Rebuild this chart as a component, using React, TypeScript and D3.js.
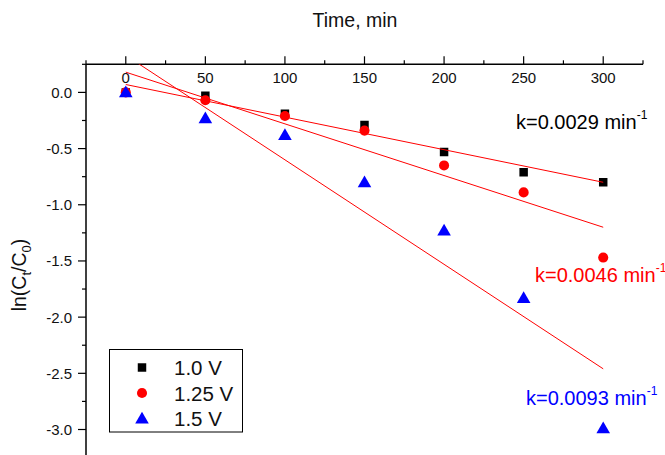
import React from "react";
import * as d3 from "d3";

// Sampling times (min)
const times = [0, 50, 100, 150, 200, 250, 300];

// ln(Ct/C0) for each applied voltage
const series10 = [0.0, -0.03, -0.19, -0.29, -0.53, -0.71, -0.8];
const series125 = [0.0, -0.07, -0.21, -0.34, -0.65, -0.89, -1.47];
const series15 = [0.0, -0.23, -0.38, -0.8, -1.23, -1.83, -2.99];

const seriesNames = ["1.0 V", "1.25 V", "1.5 V"];
const seriesColors = ["#000000", "#ff0000", "#0000ff"];

// Linear fits: intercept and rate constant k (min^-1)
const fitIntercepts = [0.07, 0.18, 0.33];
const fitRates = [0.0029, 0.0046, 0.0093];
const rateLabels = ["k=0.0029 min", "k=0.0046 min", "k=0.0093 min"];

const xMajorTicks = [0, 50, 100, 150, 200, 250, 300];
const xMinorTicks = [-25, 25, 75, 125, 175, 225, 275, 325];
const yMajorTicks = [0, -0.5, -1.0, -1.5, -2.0, -2.5, -3.0];
const yMinorTicks = [0.25, -0.25, -0.75, -1.25, -1.75, -2.25, -2.75, -3.25];

const W = 665;
const H = 455;
const FONT = "Liberation Sans, Arial, sans-serif";

export default function App() {
  const x = d3.scaleLinear().domain([-25, 325]).range([86, 643]);
  const y = d3.scaleLinear().domain([0.25, -3.25]).range([64.3, 457.6]);

  const allSeries = [series10, series125, series15];
  const symbols = [d3.symbolSquare, d3.symbolCircle, d3.symbolTriangle];
  const symbolSizes = [72, 80, 80];

  const fitPath = (i: number) =>
    d3
      .line<number>()
      .x((t) => x(t))
      .y((t) => y(fitIntercepts[i] - fitRates[i] * t))([0, 300]) || "";

  const x0 = x.range()[0];
  const x1 = x.range()[1];
  const yTop = y.range()[0];

  const labelPos = [
    { x: 516, y: 129 },
    { x: 535, y: 282 },
    { x: 526, y: 405 },
  ];

  return (
    <div style={{ position: "absolute", left: 0, top: 0 }}>
      <svg width={W} height={H} style={{ display: "block", background: "#fff" }}>
        <defs>
          <clipPath id="plot-area">
            <rect x={x0} y={yTop} width={x1 - x0} height={H - yTop} />
          </clipPath>
        </defs>
        <rect width={W} height={H} fill="#fff" />

        {/* axis title */}
        <text x={355} y={27} fontFamily={FONT} fontSize={19.5} textAnchor="middle" fill="#111">
          Time, min
        </text>

        {/* top x axis */}
        <line x1={x0} x2={x1} y1={yTop} y2={yTop} stroke="#000" strokeWidth={1.5} />
        {xMajorTicks.map((t) => (
          <g key={"xM" + t}>
            <line x1={x(t)} x2={x(t)} y1={yTop} y2={yTop - 8} stroke="#000" strokeWidth={1.2} />
            <text x={x(t)} y={yTop + 19} fontFamily={FONT} fontSize={15} textAnchor="middle" fill="#111">
              {t}
            </text>
          </g>
        ))}
        {xMinorTicks.map((t) => (
          <line key={"xm" + t} x1={x(t)} x2={x(t)} y1={yTop} y2={yTop - 4} stroke="#000" strokeWidth={1.2} />
        ))}

        {/* left y axis */}
        <line x1={x0} x2={x0} y1={yTop} y2={H + 5} stroke="#000" strokeWidth={1.5} />
        {yMajorTicks.map((v) => (
          <g key={"yM" + v}>
            <line x1={x0} x2={x0 - 8} y1={y(v)} y2={y(v)} stroke="#000" strokeWidth={1.2} />
            <text x={72} y={y(v) + 5.5} fontFamily={FONT} fontSize={15} textAnchor="end" fill="#111">
              {v.toFixed(1)}
            </text>
          </g>
        ))}
        {yMinorTicks.map((v) => (
          <line key={"ym" + v} x1={x0} x2={x0 - 4} y1={y(v)} y2={y(v)} stroke="#000" strokeWidth={1.2} />
        ))}

        <text
          transform="translate(26,275) rotate(-90)"
          fontFamily={FONT}
          fontSize={19.5}
          textAnchor="middle"
          fill="#111"
        >
          ln(C
          <tspan fontSize={13} dy={5}>t</tspan>
          <tspan dy={-5}>/C</tspan>
          <tspan fontSize={13} dy={5}>0</tspan>
          <tspan dy={-5}>)</tspan>
        </text>

        {/* data markers */}
        <g clipPath="url(#plot-area)">
          {allSeries.map((vals, si) =>
            vals.map((v, i) => (
              <path
                key={`p${si}-${i}`}
                d={d3.symbol(symbols[si], symbolSizes[si])() || ""}
                transform={`translate(${x(times[i])},${y(v) + (si === 2 ? 1 : 0)})`}
                fill={seriesColors[si]}
              />
            ))
          )}
          {/* linear fits */}
          {fitIntercepts.map((_, i) => (
            <path key={"fit" + i} d={fitPath(i)} fill="none" stroke="#ff0000" strokeWidth={1} />
          ))}
        </g>

        {/* rate constant labels */}
        {rateLabels.map((lab, i) => (
          <text key={"k" + i} x={labelPos[i].x} y={labelPos[i].y} fontFamily={FONT} fontSize={20} fill={seriesColors[i]}>
            {lab}
            <tspan fontSize={12} dy={-10}>-1</tspan>
          </text>
        ))}

        {/* legend */}
        <rect x={109.5} y={349.5} width={133} height={82.5} fill="#fff" stroke="#000" strokeWidth={1} />
        {seriesNames.map((name, i) => {
          const ly = 367.5 + i * 25.5;
          return (
            <g key={"lg" + i}>
              <path
                d={d3.symbol(symbols[i], symbolSizes[i])() || ""}
                transform={`translate(142,${ly + (i === 2 ? 1 : 0)})`}
                fill={seriesColors[i]}
              />
              <text x={174} y={ly + 7.5} fontFamily={FONT} fontSize={20.5} fill="#111">
                {name}
              </text>
            </g>
          );
        })}
      </svg>
    </div>
  );
}
